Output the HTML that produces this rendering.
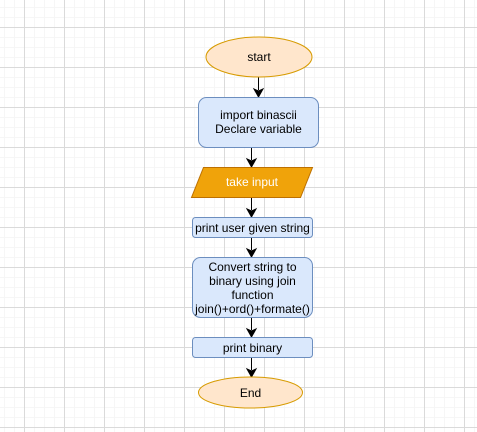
<!DOCTYPE html>
<html><head><style>
html,body{margin:0;padding:0;background:#fff}
svg{display:block}
text{font-family:"Liberation Sans",Arial,sans-serif;font-size:12px}
</style></head><body>
<svg width="477" height="432" xmlns="http://www.w3.org/2000/svg">
<defs>
<pattern id="minor" x="4" y="7" width="10" height="10" patternUnits="userSpaceOnUse"><path d="M0.5 0V10M0 0.5H10" stroke="#f6f6f6" stroke-width="1" fill="none"/></pattern>
<pattern id="major" x="24" y="27" width="40" height="40" patternUnits="userSpaceOnUse"><path d="M0.5 0V40M0 0.5H40" stroke="#dadada" stroke-width="1" fill="none"/></pattern>
</defs>
<rect width="477" height="432" fill="url(#minor)"/>
<rect width="477" height="432" fill="url(#major)"/>
<g stroke="#000" stroke-width="1">
<line x1="258.5" y1="77" x2="258.5" y2="90"/><path d="M254 89 L258.5 97 L263 89 L258.5 91 Z" fill="#000"/>
<line x1="251.5" y1="147" x2="251.5" y2="160"/><path d="M247 159 L251.5 167 L256 159 L251.5 161 Z" fill="#000"/>
<line x1="251.5" y1="197" x2="251.5" y2="210"/><path d="M247 209 L251.5 217 L256 209 L251.5 211 Z" fill="#000"/>
<line x1="251.5" y1="237" x2="251.5" y2="250"/><path d="M247 249 L251.5 257 L256 249 L251.5 251 Z" fill="#000"/>
<line x1="251.5" y1="317" x2="251.5" y2="330"/><path d="M247 329 L251.5 337 L256 329 L251.5 331 Z" fill="#000"/>
<line x1="251.5" y1="357" x2="251.5" y2="370"/><path d="M247 369 L251.5 377 L256 369 L251.5 371 Z" fill="#000"/>
</g>
<ellipse cx="259" cy="57" rx="53" ry="20" fill="#ffe6cc" stroke="#d79b00"/>
<text x="259" y="61" text-anchor="middle">start</text>
<rect x="198.5" y="97.5" width="120" height="50" rx="8" fill="#dae8fc" stroke="#6c8ebf"/>
<text x="258.5" y="119" text-anchor="middle">import binascii</text>
<text x="258.5" y="133" text-anchor="middle">Declare variable</text>
<path d="M203.5 167.5 L312.5 167.5 L300.5 197.5 L191.5 197.5 Z" fill="#f0a30a" stroke="#bd7000"/>
<text x="252" y="186" text-anchor="middle" fill="#fff">take input</text>
<rect x="192.5" y="217.5" width="120" height="20" rx="3" fill="#dae8fc" stroke="#6c8ebf"/>
<text x="252.5" y="232" text-anchor="middle" font-size="11.5">print user given string</text>
<rect x="192.5" y="257.5" width="120" height="60" rx="8" fill="#dae8fc" stroke="#6c8ebf"/>
<text x="252.5" y="271" text-anchor="middle">Convert string to</text>
<text x="252.5" y="285" text-anchor="middle">binary using join</text>
<text x="252.5" y="299" text-anchor="middle">function</text>
<text x="252.5" y="313" text-anchor="middle" font-size="11.5">join()+ord()+formate()</text>
<rect x="192.5" y="337.5" width="120" height="20" rx="3" fill="#dae8fc" stroke="#6c8ebf"/>
<text x="252.5" y="352" text-anchor="middle">print binary</text>
<ellipse cx="250.5" cy="392.5" rx="52" ry="15.5" fill="#ffe6cc" stroke="#d79b00"/>
<text x="250.5" y="397" text-anchor="middle">End</text>
</svg>
</body></html>
